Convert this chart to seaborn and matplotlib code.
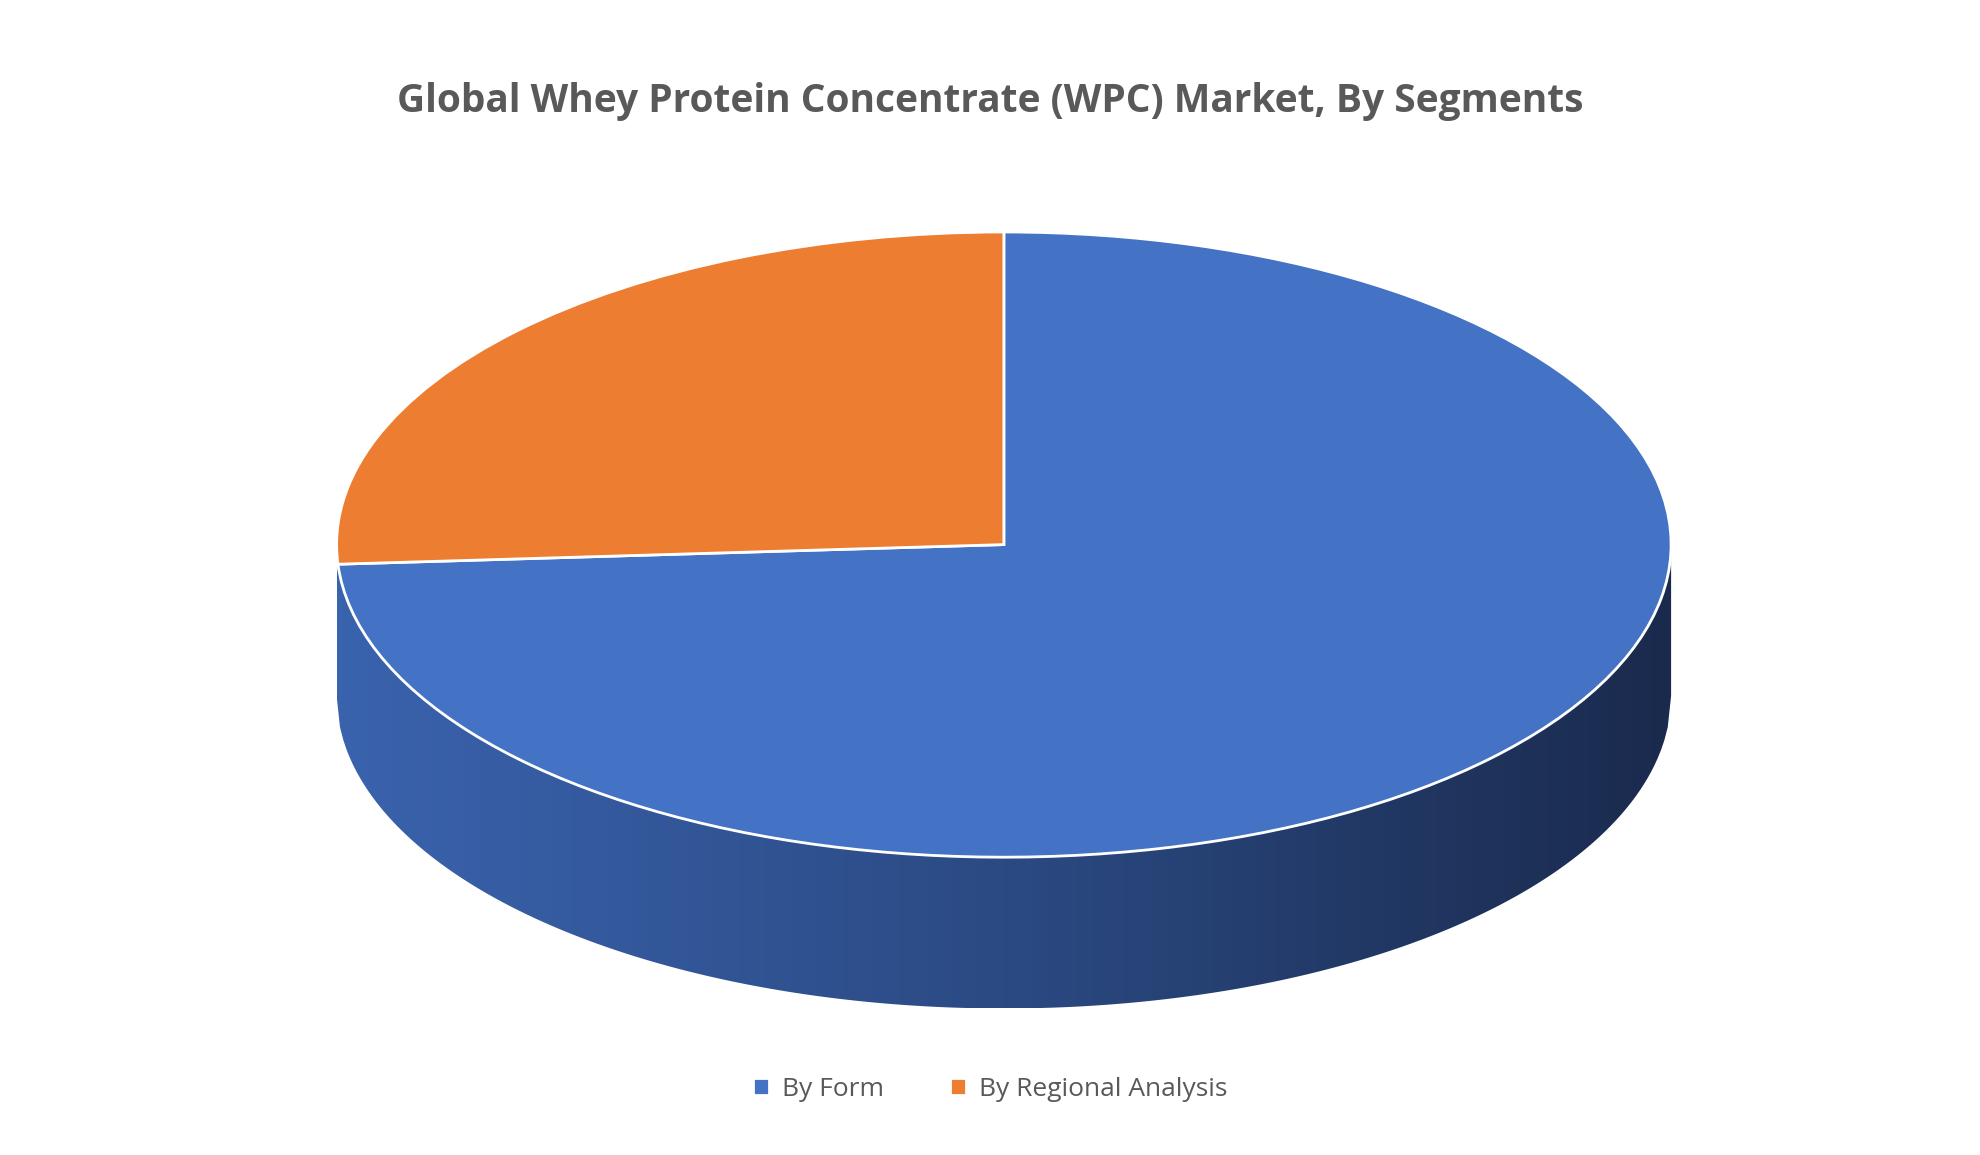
import numpy as np
import matplotlib
matplotlib.use("Agg")
import matplotlib.pyplot as plt
from matplotlib.colors import LinearSegmentedColormap
from matplotlib.patches import Polygon
import seaborn as sns

# data
segments = ["By Form", "By Regional Analysis"]
shares = [74, 26]
colors = ["#4472C4", "#ED7D31"]

sns.set_theme(style="white")
plt.rcParams["font.family"] = ["Open Sans", "DejaVu Sans"]

TEXT = "#595959"
DEPTH = 0.484

fig = plt.figure(figsize=(19.8, 11.55), dpi=100)
fig.text(0.5, 0.912, "Global Whey Protein Concentrate (WPC) Market, By Segments",
         ha="center", va="center", fontsize=28, weight="bold", color=TEXT)

ax = fig.add_axes([0.169, 0.1255, 0.676, 0.675])

# side wall with shading gradient
xs = np.linspace(-1, 1, 400)
top = -np.sqrt(1 - xs ** 2)
wall = np.concatenate([np.column_stack([xs, top]),
                       np.column_stack([xs[::-1], top[::-1] - DEPTH])])
clip = Polygon(wall, closed=True, facecolor="none", edgecolor="none")
ax.add_patch(clip)
cmap = LinearSegmentedColormap.from_list("wall", ["#3A63AE", "#2B4A83", "#1A2A4D"])
img = ax.imshow(np.linspace(0, 1, 256)[None, :], cmap=cmap, aspect="auto",
                extent=(-1, 1, -1 - DEPTH, 0), zorder=1)
img.set_clip_path(clip)

wedges, _ = ax.pie(shares, colors=colors, startangle=90, counterclock=False,
                   wedgeprops=dict(edgecolor="white", linewidth=2))
for w in wedges:
    w.set_zorder(2)

ax.set_aspect("auto")
ax.set_xlim(-1.003, 1.003)
ax.set_ylim(-1 - DEPTH - 0.005, 1.005)
ax.axis("off")

fig.legend(wedges, segments, loc="center", bbox_to_anchor=(0.5, 0.057), ncol=2,
           frameon=False, fontsize=19, labelcolor=TEXT, handlelength=0.6,
           handleheight=0.6, columnspacing=2.5, handletextpad=0.5)

fig.savefig("out.png", dpi=100)
